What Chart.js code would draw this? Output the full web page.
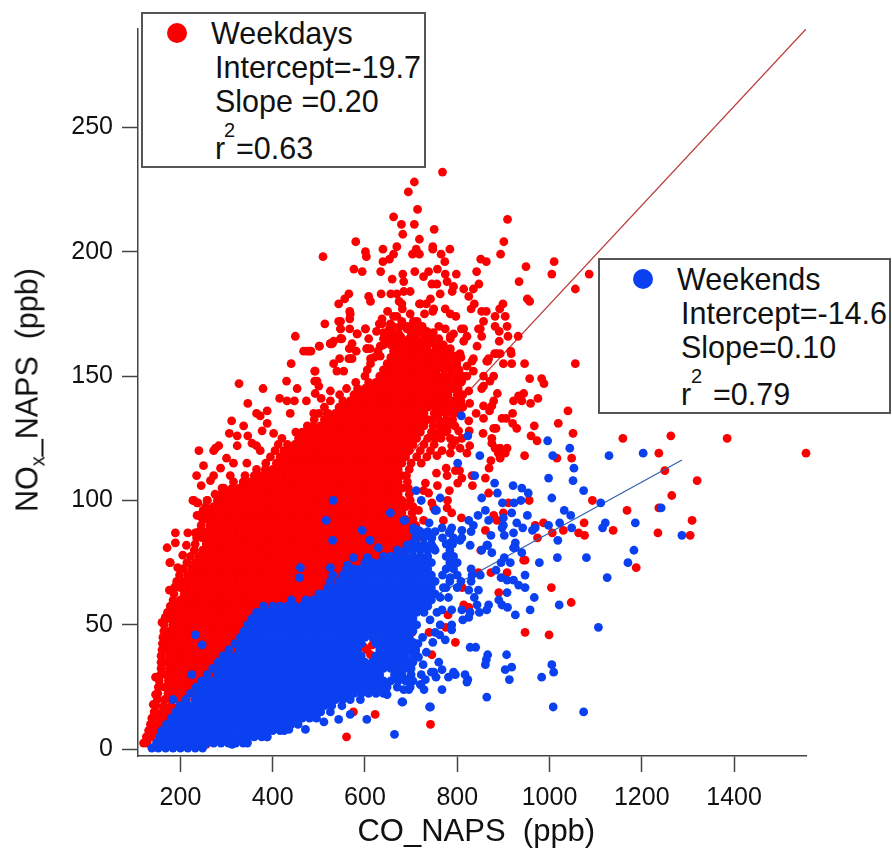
<!DOCTYPE html>
<html><head><meta charset="utf-8">
<script src="https://cdn.jsdelivr.net/npm/chart.js@4"></script>
<style>
html,body{margin:0;padding:0;background:#fff}
#wrap{position:relative;width:892px;height:851px;overflow:hidden;font-family:"Liberation Sans",Arial,sans-serif;color:#111}
canvas{position:absolute;left:0;top:0}
.box{position:absolute;background:#fff;border:2px solid #555;box-sizing:border-box}
.dot{position:absolute;width:20px;height:20px;border-radius:50%}
.t{position:absolute;font-size:30.5px;line-height:34px;white-space:pre}
.s{position:absolute;font-size:20px;line-height:23px}
#ytitle{position:absolute;left:27px;top:390px;font-size:30.5px;white-space:pre;transform:translate(-50%,-50%) rotate(-90deg)}
#ytitle sub{font-size:20px;line-height:0}
</style></head><body>
<div id="wrap">
<canvas id="c" width="892" height="851"></canvas>
<div id="ytitle">NO<sub>x</sub>_NAPS  (ppb)</div>
<div class="box" style="left:141px;top:12px;width:285px;height:156px"></div>
<div class="dot" style="left:167px;top:23px;background:#fa0000"></div>
<div class="t" style="left:211px;top:16px">Weekdays</div>
<div class="t" style="left:215px;top:50px">Intercept=-19.7</div>
<div class="t" style="left:215px;top:84px">Slope =0.20</div>
<div class="t" style="left:215px;top:131px">r</div>
<div class="s" style="left:224px;top:119px">2</div>
<div class="t" style="left:236px;top:131px">=0.63</div>
<div class="box" style="left:598px;top:258px;width:293px;height:156px"></div>
<div class="dot" style="left:633px;top:269px;background:#0a40f0"></div>
<div class="t" style="left:677px;top:262px">Weekends</div>
<div class="t" style="left:681px;top:296px">Intercept=-14.6</div>
<div class="t" style="left:681px;top:330px">Slope=0.10</div>
<div class="t" style="left:681px;top:377px">r</div>
<div class="s" style="left:691px;top:365px">2</div>
<div class="t" style="left:713px;top:377px">=0.79</div>
</div>
<script>
const xTicks=[200,400,600,800,1000,1200,1400];
const yTicks=[0,50,100,150,200,250];
const weekdayFit=[{x:120,y:3.6},{x:1556,y:289.5}];
const weekendFit=[{x:150,y:0.3},{x:1287,y:116.3}];
// Dense weekday mass: [NOx, [CO readings along that NOx level]]
const weekdayRows=[
[2.5,[120,128]],[5,[126,138]],[7.5,[131,145,154]],[10,[135,150,166]],[12.5,[138,154,169,182]],[15,[143,160,175,191]],[17.5,[147,164,180,197,206]],[20,[150,166,181,197,213]],
[22.5,[151,173,189,205,221,229]],[25,[152,166,182,198,214,230,242]],[27.5,[154,174,190,206,222,238,250]],[30,[157,168,184,199,216,232,248,264]],
[32.5,[158,176,192,208,224,240,256,272,280]],[35,[158,168,184,200,216,232,248,264,280,290]],[37.5,[158,176,192,208,224,240,256,272,288,300]],
[40,[160,168,184,200,216,232,248,264,280,296,312]],[42.5,[161,176,192,208,224,240,256,272,288,304,320,328]],[45,[162,170,184,200,216,232,248,264,280,296,312,328,342]],
[47.5,[164,178,192,208,224,240,256,272,288,304,320,336,352]],[50,[165,184,200,216,232,248,264,280,296,312,328,344,360,368]],
[52.5,[168,176,192,208,224,240,256,272,288,304,320,336,352,368,384,392]],[55,[172,184,200,216,232,248,264,280,296,312,328,344,360,376,392,408,420]],
[57.5,[178,192,208,224,240,256,272,288,304,320,336,352,368,384,400,416,432,448,464,476]],
[60,[184,200,216,232,248,264,280,296,312,328,344,360,376,392,408,424,440,456,472,488,504,520,530]],
[62.5,[186,208,224,240,256,272,288,304,320,336,352,368,384,400,416,432,448,464,480,496,512,528,540]],
[65,[187,200,216,232,248,264,280,296,312,328,344,360,376,392,408,424,440,456,472,488,504,520,536,546]],
[67.5,[192,208,224,240,256,272,288,304,320,336,352,368,384,400,416,432,448,464,480,496,512,528,544,554]],
[70,[198,216,232,248,264,280,296,312,328,344,360,376,392,408,424,440,456,472,488,504,520,536,552,566]],
[72.5,[206,224,240,256,272,288,304,320,336,352,368,384,400,416,432,448,464,480,496,512,528,544,560,576,592,600]],
[75,[214,232,248,264,280,296,312,328,344,360,376,392,408,424,440,456,472,488,504,520,536,552,568,584,600,616,622]],
[77.5,[222,240,256,272,288,304,320,336,352,368,384,400,416,432,448,464,480,496,512,528,544,560,576,592,608,624,640,650]],
[80,[230,248,264,280,296,312,328,344,360,376,392,408,424,440,456,472,488,504,520,536,552,568,584,600,616,632,648,664,680,690]],
[82.5,[232,256,272,288,304,320,336,352,368,384,400,416,432,448,464,480,496,512,528,544,560,576,592,608,624,640,656,672,688,704]],
[85,[235,248,264,280,296,312,328,344,360,376,392,408,424,440,456,472,488,504,520,536,552,568,584,600,616,632,648,664,680,696,714]],
[87.5,[240,256,272,288,304,320,336,352,368,384,400,416,432,448,464,480,496,512,528,544,560,576,592,608,624,640,656,672,688,704,712]],
[90,[245,264,280,296,312,328,344,360,376,392,408,424,440,456,472,488,504,520,536,552,568,584,600,616,632,648,664,680,696,710]],
[92.5,[248,256,272,288,304,320,336,352,368,384,400,416,432,448,464,480,496,512,528,544,560,576,592,608,624,640,656,672,688,704]],
[95,[250,264,280,296,312,328,344,360,376,392,408,424,440,456,472,488,504,520,536,552,568,584,600,616,632,648,664,680,702]],
[97.5,[255,272,288,304,320,336,352,368,384,400,416,432,448,464,480,496,512,528,544,560,576,592,608,624,640,656,672,688,704]],
[100,[258,280,296,312,328,344,360,376,392,408,424,440,456,472,488,504,520,536,552,568,584,600,616,632,648,664,680,698]],
[102.5,[275,288,304,320,336,352,368,384,400,416,432,448,464,480,496,512,528,544,560,576,592,608,624,640,656,672,696]],
[105,[290,312,328,344,360,376,392,408,424,440,456,472,488,504,520,536,552,568,584,600,616,632,648,664,680,694]],
[107.5,[315,336,352,368,384,400,416,432,448,464,480,496,512,528,544,560,576,592,608,624,640,656,672,692]],
[110,[340,360,376,392,408,424,440,456,472,488,504,520,536,552,568,584,600,616,632,648,664,680,690]],
[112.5,[365,384,400,416,432,448,464,480,496,512,528,544,560,576,592,608,624,640,656,672,696]],
[115,[385,408,424,440,456,472,488,504,520,536,552,568,584,600,616,632,648,664,680,700,722]],
[117.5,[395,416,432,448,464,480,496,512,528,544,560,576,592,608,624,640,656,672,688,712,734]],
[120,[405,424,440,456,472,488,504,520,536,552,568,584,600,616,632,648,664,680,696,720,742]],
[122.5,[412,432,448,464,480,496,512,528,544,560,576,592,608,624,640,656,672,688,704,728,750]],
[125,[420,456,472,488,504,520,536,552,568,584,600,616,632,648,664,680,696,712,736,752,765]],
[127.5,[450,464,480,496,512,528,544,560,576,592,608,624,640,656,672,688,704,720,744,760,772]],
[130,[475,488,504,520,536,552,568,584,600,616,632,648,664,680,696,712,728,748,764,780,795]],
[132.5,[490,512,528,544,560,576,592,608,624,640,656,672,688,704,720,736,748,760,776,790]],
[135,[500,520,536,552,568,584,600,616,632,648,664,680,696,712,728,750,760,776,792,805]],
[137.5,[512,544,560,576,592,608,624,640,656,672,688,704,720,736,752,768,784,800,812]],
[140,[525,552,568,584,600,616,632,648,664,680,696,712,728,744,760,776,792,808]],
[142.5,[545,576,592,608,624,640,656,672,688,704,720,736,752,768,780,800,812]],
[145,[560,584,600,616,632,648,664,680,696,712,728,744,760,776,790,802]],
[147.5,[580,608,624,640,656,672,688,704,720,736,752,766,780,796,808]],
[150,[600,632,648,664,680,696,712,728,744,757,770,784,800,812]],
[152.5,[605,640,656,672,688,704,720,736,746,756,772,788,804]],
[155,[612,648,664,680,696,712,728,738,748,764,780,796]],
[157.5,[620,656,672,688,704,720,732,744,760,776,792,808]],
[160,[628,664,680,696,712,724,736,752,768,784]],
[162.5,[640,656,672,688,704,720,736,752,770]],
[165,[648,664,680,696,712,728,744,760]],
[167.5,[640,656,672,700,716,732,748]],
[170,[660,676,692,708,724]]];
// Individually readable weekday points, as CO,NOx pairs
const weekdayPoints=[
768,232,707,228,694,224,714,217,662,214,679,211,707,211,750,209,909,213,682,207,580,204,718,205,901,204,639,201,669,202,601,200,603,198,711,201,703,199,718,199,747,202,747,201,784,201,765,199,894,199,509,198,662,199,653,197,639,196,773,196,851,197,863,196,576,193,594,192,634,192,708,192,738,192,757,193,842,192,949,194,1010,196,1005,191,682,191,659,189,727,190,774,191,798,191,934,188,684,188,745,187,756,187,778,188,847,187,835,185,814,185,792,186,789,184,698,184,684,184,669,183,656,183,635,183,565,183,608,182,612,180,556,181,543,179,763,183,825,182,742,181,674,180,952,181,957,180,718,179,733,179,837,179,899,179,830,177,892,177,681,177,774,177,567,176,649,176,729,175,747,176,853,176,863,176,797,174,882,174,904,174,698,175,669,174,637,173,567,173,547,172,513,171,857,172,882,170,908,170,631,171,655,171,680,172,713,172,760,170,774,169,809,169,846,169,891,168,601,169,547,169,567,169,583,167,625,168,653,169,691,169,734,168,910,166,932,166,550,165,532,164,608,165,640,165,677,166,705,166,734,165,785,166,821,166,853,166,525,163,501,162,479,160,467,160,572,163,566,161,604,161,581,160,633,162,662,160,698,162,734,160,763,162,785,161,814,164,843,162,891,164,916,160,881,159,893,159,545,157,572,157,612,157,633,158,691,158,763,157,799,158,835,157,868,157,
946,155,1056,155,917,159,886,159,866,156,900,155,918,155,832,156,796,158,821,154,835,152,857,150,871,148,957,149,983,149,988,147,853,145,825,144,810,148,887,143,879,140,944,143,933,142,922,140,940,140,959,139,975,141,857,138,875,138,827,139,870,136,841,135,1040,136,920,135,897,133,906,133,857,133,825,132,920,131,929,129,1019,131,967,130,879,129,884,129,803,128,778,128,856,127,1051,127,826,128,960,126,973,124,1159,125,875,125,875,123,785,125,796,124,810,125,788,122,806,121,827,122,882,121,893,121,908,121,889,119,904,119,767,120,756,118,785,119,821,119,946,118,1016,117,1048,117,1237,119,873,116,893,117,869,113,776,113,755,111,805,112,778,110,796,112,832,110,861,109,801,107,810,109,757,106,833,106,783,104,731,107,738,103,727,104,868,103,1093,100,956,100,911,99,779,100,745,99,778,97,749,97,716,96,788,95,879,94,900,95,1168,96,1237,97,809,93,886,92,727,92,770,92,1075,91,987,91,969,90,1138,88,861,88,1030,88,1063,87,1076,86,1006,87,974,85,1235,87,
1056,185,1086,191,1556,119,1385,125,1263,126,1250,112,1320,108,1265,102,1309,92,1305,86,947,76,944,76,1188,73,908,71,873,71,846,71,1004,65,890,63,811,65,1047,59,814,58,825,57,780,54,775,49,947,47,999,46,796,43,739,47,745,38,695,41,684,49,702,47,792,74,851,80,604,40,612,38,598,41,616,42,560,5,622,14,742,10,575,15,256,2,370,8,
449,166,501,162,474,160,483,160,440,155,529,163,547,165,327,147,379,145,430,148,453,145,491,152,491,148,500,146,415,141,431,140,447,140,473,140,492,143,505,141,346,139,365,135,388,136,373,134,311,132,337,130,388,131,377,128,306,127,323,126,346,126,323,122,283,122,272,120,240,120,355,123,365,122,300,117,315,115,250,114,287,113,272,110,235,110,245,106,265,108,294,105,227,100,238,99,258,100,240,94,249,96,177,75,194,73,191,66,176,64,167,53,160,51,164,45,146,29,153,29,146,22,141,18,171,81,189,87,189,83,213,82,205,78,178,75,216,87,232,87,229,100,236,99,236,94,276,121,
492,152,496,148,532,155,554,152,565,157,583,167,547,165,525,163,543,172,568,175,547,169,601,169,604,161,637,171,662,174,680,179,705,172,720,179,749,177,785,175,814,169,850,169,785,165,806,159,799,155,821,150,864,156,857,146,879,150,792,167,518,135,489,135,525,144,539,152,568,157,611,161,438,135,402,127,373,120,344,115,308,110];
// Dense weekend mass: [NOx, [CO readings along that NOx level]]
const weekendRows=[
[0.5,[138,152,168,184,200,216,232,248]],
[2.5,[148,160,176,192,208,224,240,256,272,288,304,320,336,345]],
[5,[155,168,184,200,216,232,248,264,280,296,312,328,344,360,376,388]],
[7.5,[160,176,192,208,224,240,256,272,288,304,320,336,352,368,384,400,416,425]],
[10,[170,184,200,216,232,248,264,280,296,312,328,344,360,376,392,408,424,440,455]],
[12.5,[180,192,208,224,240,256,272,288,304,320,336,352,368,384,400,416,432,448,464,480,495]],
[15,[190,200,216,232,248,264,280,296,312,328,344,360,376,392,408,424,440,456,472,488,504,525]],
[17.5,[198,208,224,240,256,272,288,304,320,336,352,368,384,400,416,432,448,464,480,496,512,528,550]],
[20,[212,232,248,264,280,296,312,328,344,360,376,392,408,424,440,456,472,488,504,520,536,552,568]],
[22.5,[222,240,256,272,288,304,320,336,352,368,384,400,416,432,448,464,480,496,512,528,544,560,576,592,608,624,640]],
[25,[234,248,264,280,296,312,328,344,360,376,392,408,424,440,456,472,488,504,520,536,552,568,584,600,616,632,648,670]],
[27.5,[246,256,272,288,304,320,336,352,368,384,400,416,432,448,464,480,496,512,528,544,560,576,592,608,624,640,656,672,688,704]],
[30,[258,280,296,312,328,344,360,376,392,408,424,440,456,472,488,504,520,536,552,568,584,600,616,632,664,680,700]],
[32.5,[270,288,304,320,336,352,368,384,400,416,432,448,464,480,496,512,528,544,560,576,592,608,624,640,656,672,688,700]],
[35,[282,296,312,328,344,360,376,392,408,424,440,456,472,488,504,520,536,552,568,584,600,616,632,648,664,680,704]],
[37.5,[292,304,320,336,352,368,384,400,416,432,448,464,480,496,512,528,544,560,576,592,624,640,656,672,688,706]],
[40,[305,328,344,360,376,392,408,424,440,456,472,488,504,520,536,552,568,584,632,648,664,680,696,710]],
[42.5,[318,336,352,368,384,400,416,432,448,464,480,496,512,528,544,560,576,592,624,640,656,672,688,704,715]],
[45,[330,344,360,376,392,408,424,440,456,472,488,504,520,536,552,568,584,600,616,632,648,664,680,696]],
[47.5,[338,352,368,384,400,416,432,448,464,480,496,512,528,544,560,576,592,608,624,640,656,672,688,704]],
[50,[345,360,376,392,408,424,440,456,472,488,504,520,536,552,568,584,600,616,632,648,664,680,696,712]],
[52.5,[355,368,384,400,416,432,448,464,480,496,512,528,544,560,576,592,608,624,640,656,672,688,704]],
[55,[365,376,392,408,424,440,456,472,488,504,520,536,552,568,584,600,616,632,648,664,680,696,712,728]],
[57.5,[380,400,416,432,448,464,480,496,512,528,544,560,576,592,608,624,640,656,672,688,704,720,736]],
[60,[440,472,488,504,520,536,552,568,584,600,616,632,648,664,680,696,712,728,744]],
[62.5,[500,512,528,544,560,576,592,608,624,640,656,672,688,704,720,736,752]],
[65,[520,536,552,568,584,600,616,632,648,664,680,696,712,728,744,776,800]],
[67.5,[525,544,560,576,592,608,624,640,656,672,688,704,720,736,752,784,808,830]],
[70,[530,552,568,584,600,616,632,648,664,680,696,712,728,744,768,800,832,850]],
[72.5,[560,576,592,608,624,640,656,672,688,704,720,736,776,792,830]],
[75,[600,616,632,648,664,680,696,712,728,744,784,800]],
[77.5,[640,656,672,688,704,720,736,776,792]],
[80,[670,688,704,720,736,752,784]],
[82.5,[700,712,728,744,776,790]],
[85,[710,728,744,768,792,810]],
[87.5,[720,736,752,784,830]]];
// Individually readable weekend points, as CO,NOx pairs
const weekendPoints=[
809,134,823,126,996,124,1044,121,849,118,1007,118,1129,118,1203,119,801,115,1053,113,838,110,998,109,1051,108,881,107,921,106,940,105,954,103,1074,104,887,103,711,104,853,101,1005,101,763,101,722,100,938,100,923,99,898,99,1111,99,755,96,861,96,1032,96,918,95,845,94,952,94,1046,94,868,92,686,92,825,92,900,93,835,90,1121,91,1186,91,929,91,900,90,1022,91,998,90,942,89,1115,89,969,89,963,88,1048,89,739,91,767,89,788,89,705,89,716,88,783,87,810,88,897,89,873,86,902,86,922,87,745,85,806,84,1018,84,828,82,866,82,926,83,922,81,1183,80,785,83,749,81,720,81,691,82,
1242,97,1287,86,1170,75,1125,69,1080,77,1017,77,978,75,1106,49,1021,58,967,61,958,56,908,63,947,70,947,65,933,66,922,68,908,68,895,69,884,72,895,75,915,75,902,77,940,79,926,81,875,79,864,82,853,80,890,60,897,58,909,57,926,54,868,58,864,56,848,55,843,58,837,61,846,64,825,64,828,55,812,52,825,53,810,56,788,56,767,56,756,55,741,52,763,50,788,50,788,48,752,47,762,46,774,44,725,45,747,43,733,39,828,41,840,41,866,38,863,36,861,34,907,38,918,33,904,32,913,28,1005,34,1009,31,983,29,864,21,1008,17,1074,15,740,17,767,24,760,35,767,32,781,29,796,30,817,30,823,28,744,31,754,29,722,30,731,28,721,26,728,24,709,39,716,37,726,34,698,35,704,43,687,46,698,25,684,24,682,19,691,28,684,36,785,69,770,65,781,61,763,61,
531,100,516,92,530,84,594,88,611,84,629,81,460,73,458,69,655,95,685,92,752,96,605,77,575,77,525,73,562,74,648,76,692,81,705,88,184,20,232,46,247,42,225,30,
543,12,511,11,471,8,568,14,604,12,664,6,590,20,648,22,680,19,742,17,695,24,720,26,749,31,792,31,821,27,388,5,345,3,312,2,489,13,453,12,435,8,416,8];

const fromRows=rows=>rows.flatMap(([n,cs])=>cs.map(c=>({x:c,y:n})));
const fromPairs=a=>{const o=[];for(let i=0;i<a.length;i+=2)o.push({x:a[i],y:a[i+1]});return o;};
const RED='#fa0000',BLUE='#0a40f0';
const dot=(label,data,color,order)=>({type:'scatter',label,data,order,clip:false,backgroundColor:color,borderWidth:0,pointRadius:4.4,pointHoverRadius:4.4,showLine:false});
const fit=(label,data,color,order)=>({type:'line',label,data,order,borderColor:color,borderWidth:1.2,pointRadius:0,fill:false,tension:0});
const plain=v=>String(v);
new Chart(document.getElementById('c'),{
 type:'scatter',
 data:{datasets:[
  fit('Weekday fit',weekdayFit,'#b83a3a',4),
  dot('Weekdays',fromRows(weekdayRows).concat(fromPairs(weekdayPoints)),RED,3),
  fit('Weekend fit',weekendFit,'#2f5fb0',2),
  dot('Weekends',fromRows(weekendRows).concat(fromPairs(weekendPoints)),BLUE,1)
 ]},
 options:{
  responsive:false,animation:false,events:[],
  layout:{padding:{top:29,right:86,left:0,bottom:0}},
  plugins:{legend:{display:false},tooltip:{enabled:false}},
  scales:{
   x:{type:'linear',min:108,max:1556,
    afterBuildTicks:s=>{s.ticks=xTicks.map(v=>({value:v}));},
    afterFit:s=>{s.height=95;},
    border:{color:'#444',width:1.5},
    grid:{drawOnChartArea:false,drawTicks:true,tickLength:16,tickColor:'#444',tickWidth:1.5},
    ticks:{font:{family:'"Liberation Sans"',size:25},color:'#111',padding:11,maxRotation:0,autoSkip:false,callback:plain},
    title:{display:true,text:' CO_NAPS  (ppb)',font:{family:'"Liberation Sans"',size:31},color:'#111',padding:{top:0,bottom:0}}
   },
   y:{type:'linear',min:-2.7,max:289.5,
    afterBuildTicks:s=>{s.ticks=yTicks.map(v=>({value:v}));},
    afterFit:s=>{s.width=138;},
    border:{color:'#444',width:1.5},
    grid:{drawOnChartArea:false,drawTicks:true,tickLength:16,tickColor:'#444',tickWidth:1.5},
    ticks:{font:{family:'"Liberation Sans"',size:25},color:'#111',padding:9,autoSkip:false,callback:plain}
   }
  }
 }
});
</script>
</body></html>
